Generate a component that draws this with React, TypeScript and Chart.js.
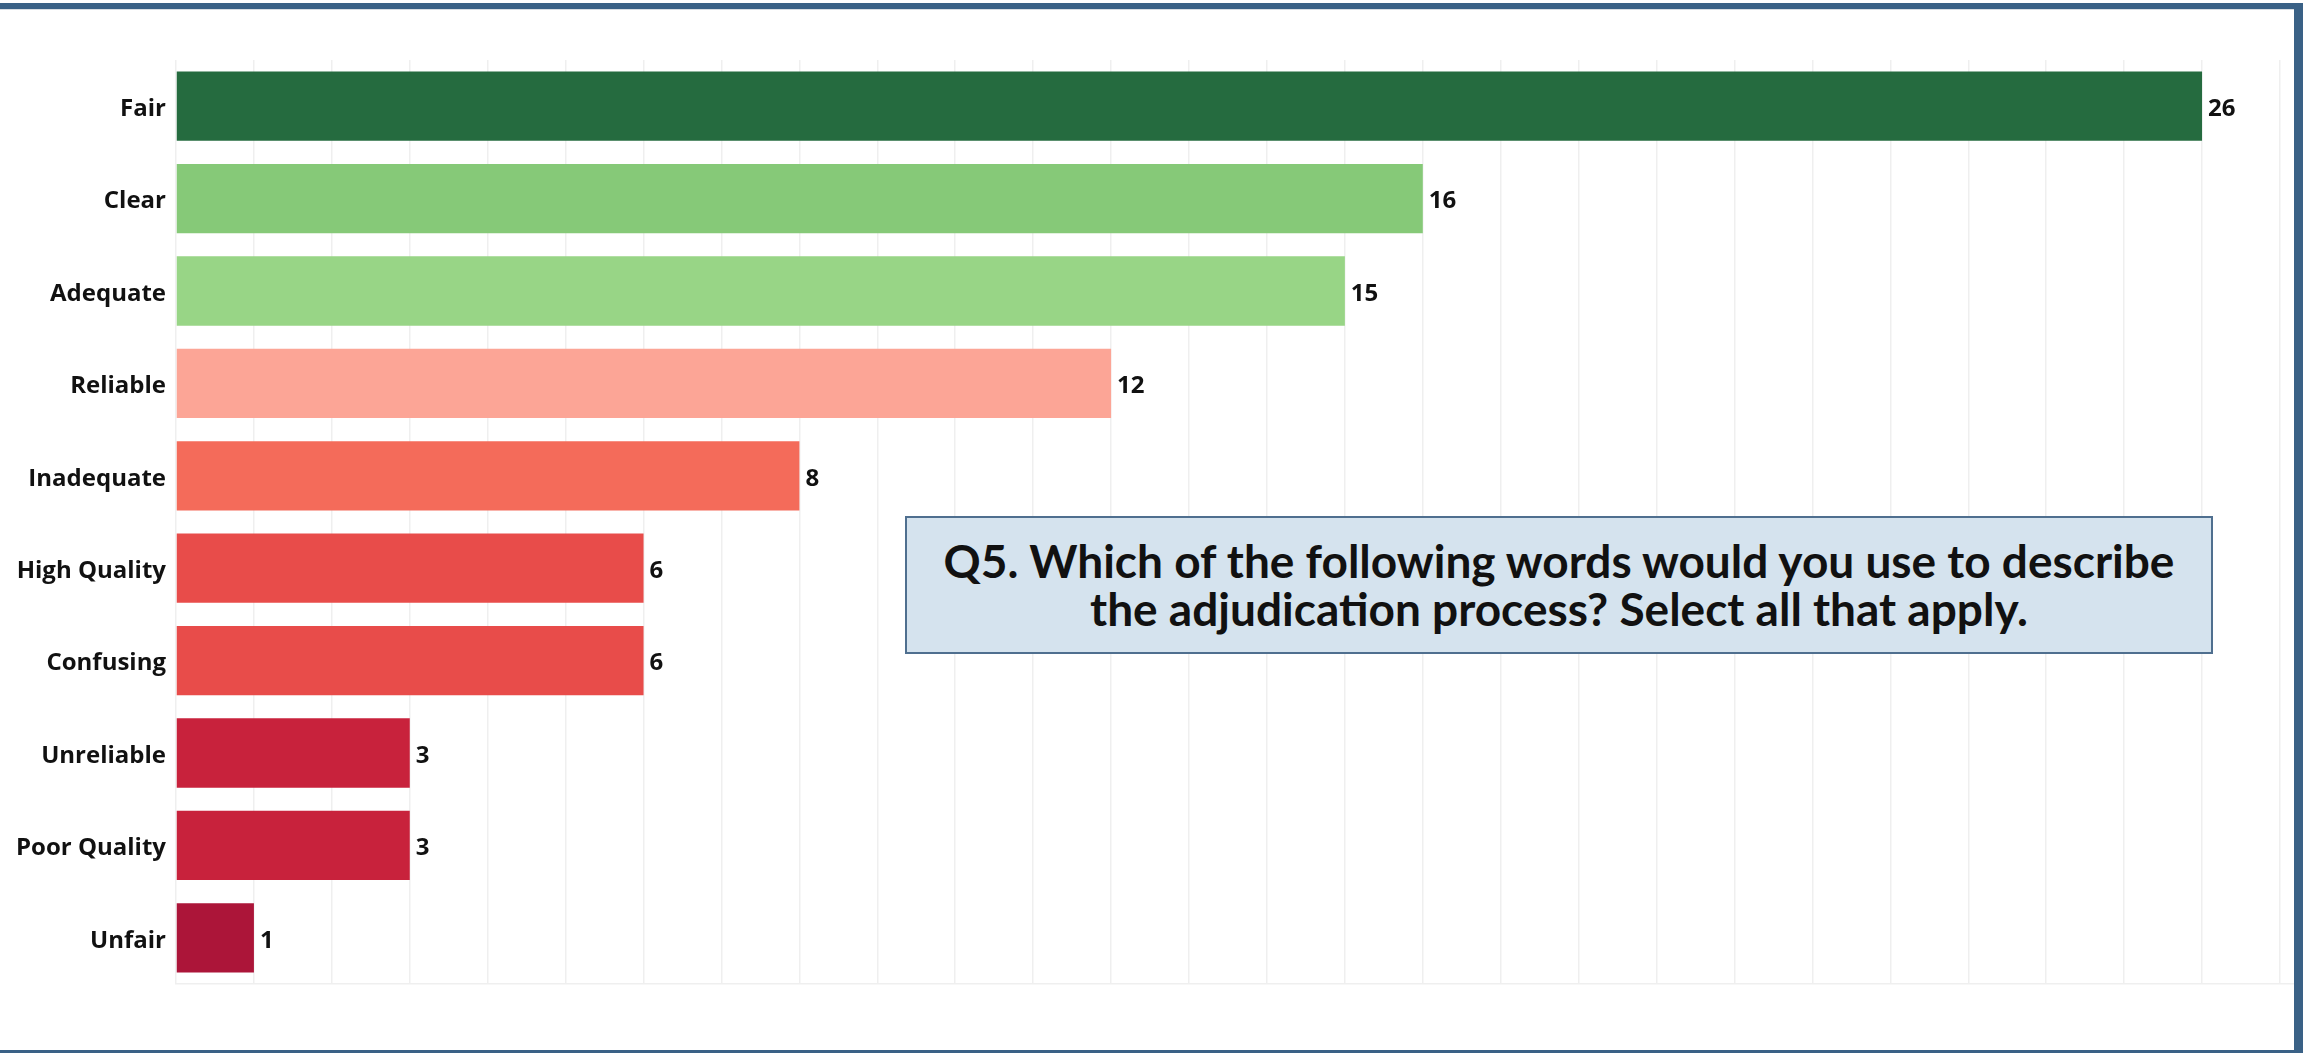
import React, { useEffect, useRef } from "react";
import { Chart, registerables } from "chart.js";

Chart.register(...registerables);

const categories = [
  "Fair",
  "Clear",
  "Adequate",
  "Reliable",
  "Inadequate",
  "High Quality",
  "Confusing",
  "Unreliable",
  "Poor Quality",
  "Unfair",
];
const counts = [26, 16, 15, 12, 8, 6, 6, 3, 3, 1];
const barColors = [
  "#256b3f",
  "#86c978",
  "#98d586",
  "#fca596",
  "#f46b5a",
  "#e84c4a",
  "#e84c4a",
  "#c8223c",
  "#c8223c",
  "#ac1539",
];
const titleLines = [
  "Q5. Which of the following words would you use to describe",
  "the adjudication process? Select all that apply.",
];

const valueLabels = {
  id: "valueLabels",
  afterDatasetsDraw(chart: any) {
    const ctx = chart.ctx;
    const meta = chart.getDatasetMeta(0);
    ctx.save();
    ctx.font = "bold 24px 'Open Sans'";
    ctx.fillStyle = "#111111";
    ctx.textAlign = "left";
    ctx.textBaseline = "middle";
    meta.data.forEach((bar: any, i: number) => {
      ctx.fillText(String(counts[i]), bar.x + 6, bar.y + 3);
    });
    ctx.restore();
  },
};

export default function App() {
  const canvasRef = useRef<HTMLCanvasElement | null>(null);

  useEffect(() => {
    document.body.style.margin = "0";
    const canvas = canvasRef.current;
    if (!canvas) return;
    const chart = new Chart(canvas, {
      type: "bar",
      data: {
        labels: categories,
        datasets: [
          {
            data: counts,
            backgroundColor: barColors,
            borderWidth: 0,
            barPercentage: 0.75,
            categoryPercentage: 1,
          },
        ],
      },
      options: {
        indexAxis: "y",
        animation: false,
        responsive: false,
        maintainAspectRatio: false,
        layout: { padding: { top: 60, bottom: 69, left: 0, right: 9 } },
        plugins: {
          legend: { display: false },
          tooltip: { enabled: false },
          title: { display: false },
        },
        scales: {
          x: {
            type: "linear",
            min: 0,
            max: 27.18,
            afterBuildTicks: (scale: any) => {
              const t = [];
              for (let v = 0; v <= 27; v++) t.push({ value: v });
              scale.ticks = t;
            },
            afterFit: (scale: any) => {
              scale.height = 0;
            },
            ticks: { display: false },
            grid: { color: "#efefef", lineWidth: 1.5, drawTicks: false },
            border: { display: true, color: "#efefef", width: 1.5 },
          },
          y: {
            afterFit: (scale: any) => {
              scale.width = 176;
            },
            ticks: {
              padding: 10,
              labelOffset: 3,
              color: "#111111",
              font: { family: "'Open Sans'", weight: "bold", size: 24 },
            },
            grid: { display: false, drawTicks: false, tickLength: 0 },
            border: { display: false },
          },
        },
      },
      plugins: [valueLabels],
    });
    return () => chart.destroy();
  }, []);

  return (
    <div style={{ position: "relative", width: 2303, height: 1053, background: "#ffffff", overflow: "hidden" }}>
      <canvas ref={canvasRef} width={2303} height={1053} style={{ position: "absolute", left: 0, top: 0 }} />
      <div style={{ position: "absolute", left: 0, top: 3, width: 2303, height: 6, background: "#3a6186" }} />
      <div style={{ position: "absolute", left: 0, top: 9, width: 2294, height: 1, background: "#d8dde2" }} />
      <div style={{ position: "absolute", left: 2294, top: 3, width: 9, height: 1050, background: "#3a6186" }} />
      <div style={{ position: "absolute", left: 0, top: 1050, width: 2303, height: 3, background: "#3a6186" }} />
      <div
        style={{
          position: "absolute",
          left: 905,
          top: 516,
          width: 1308,
          height: 138,
          boxSizing: "border-box",
          border: "2px solid #4f6f8f",
          background: "#d5e3ee",
          display: "flex",
          flexDirection: "column",
          alignItems: "center",
          justifyContent: "center",
          fontFamily: "Lato, 'Open Sans', sans-serif",
          fontWeight: 700,
          fontSize: 46,
          lineHeight: "48px",
          color: "#111111",
          textAlign: "center",
          whiteSpace: "nowrap",
        }}
      >
        <div>{titleLines[0]}</div>
        <div>{titleLines[1]}</div>
      </div>
    </div>
  );
}
